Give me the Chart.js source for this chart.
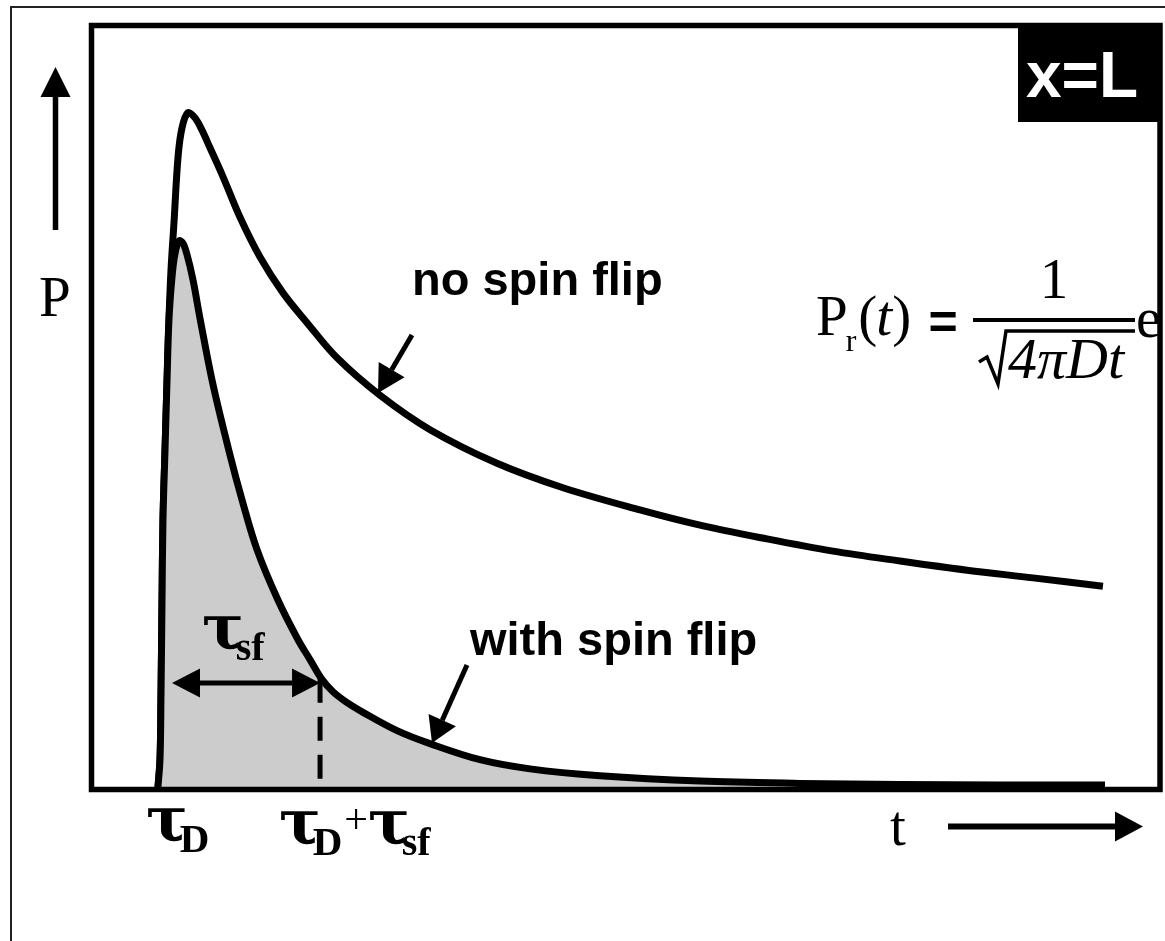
<!DOCTYPE html>
<html>
<head>
<meta charset="utf-8">
<script src="https://cdn.jsdelivr.net/npm/chart.js@4.4.1/dist/chart.umd.min.js"></script>
<style>
  html, body { margin: 0; padding: 0; background: #fff; }
  #wrap { width: 1165px; height: 941px; position: relative; }
</style>
</head>
<body>
<div id="wrap"><canvas id="diffChart" width="1165" height="941"></canvas></div>
<script>
// time axis (arbitrary units) and polarisation at x = L
const tNoFlip = [6.22, 6.41, 6.50, 6.60, 6.69, 6.88, 7.07, 7.25, 7.44, 7.72, 8.10, 8.47, 9.03, 9.69,
  10.34, 11.09, 12.31, 13.90, 15.77, 17.92, 20.17, 22.98, 27.00, 31.68, 37.95, 44.13, 51.33,
  56.95, 63.22, 69.40, 75.67, 81.94, 88.11, 94.66];
const pNoFlip = [0.3, 3.9, 11.7, 24.8, 35.3, 44.4, 53.6, 61.5, 68.0, 74.2, 82.8, 86.6, 88.6, 87.9,
  86.3, 84.0, 80.2, 74.9, 69.7, 65.0, 61.1, 56.5, 51.6, 47.1, 42.7, 39.5, 36.6,
  34.6, 32.8, 31.2, 29.9, 28.7, 27.7, 26.6];

const tFlip = [6.22, 6.41, 6.50, 6.60, 6.69, 6.88, 7.07, 7.25, 7.53, 7.81, 8.19, 8.56, 8.94, 9.50,
  10.15, 11.37, 12.96, 14.09, 15.49, 17.45, 19.33, 20.45, 21.48, 22.60, 24.00, 25.41, 28.59,
  31.68, 36.36, 41.04, 47.59, 56.95, 66.30, 75.67, 85.03, 94.85];
const pFlip = [0.3, 3.9, 11.7, 24.8, 35.3, 44.4, 53.6, 61.5, 67.0, 70.1, 71.8, 71.5, 70.0, 66.7,
  61.7, 53.0, 43.8, 37.9, 31.4, 24.8, 19.6, 17.0, 14.6, 12.8, 11.3, 10.1, 7.7,
  6.0, 3.9, 2.7, 1.8, 1.1, 0.8, 0.65, 0.6, 0.6];

// marked times
const tauD = 6.27;
const tauSf = 15.12;
const pAtMark = 14.5;

const SERIF = '"Liberation Serif", "Times New Roman", serif';
const SANS = '"Liberation Sans", Arial, sans-serif';
const TAU = '"DejaVu Serif", serif';

function toPoints(xs, ys) {
  return xs.map((x, i) => ({ x: x, y: ys[i] }));
}

function arrow(ctx, x0, y0, x1, y1, headLen, headW, lw) {
  const a = Math.atan2(y1 - y0, x1 - x0);
  const bx = x1 - Math.cos(a) * headLen, by = y1 - Math.sin(a) * headLen;
  ctx.lineWidth = lw;
  ctx.beginPath();
  ctx.moveTo(x0, y0);
  ctx.lineTo(bx, by);
  ctx.stroke();
  const nx = -Math.sin(a) * headW / 2, ny = Math.cos(a) * headW / 2;
  ctx.beginPath();
  ctx.moveTo(x1, y1);
  ctx.lineTo(bx + nx, by + ny);
  ctx.lineTo(bx - nx, by - ny);
  ctx.closePath();
  ctx.fill();
}

// draws a run of [text, font, dy, extraGap] pieces one after another
function textRun(ctx, x, y, parts) {
  parts.forEach(p => {
    ctx.font = p[1];
    ctx.fillText(p[0], x, y + (p[2] || 0));
    x += ctx.measureText(p[0]).width + (p[3] || 0);
  });
  return x;
}

const decor = {
  id: 'decor',
  afterDraw(chart) {
    const ctx = chart.ctx;
    const ca = chart.chartArea;
    const xs = chart.scales.x, ys = chart.scales.y;
    ctx.save();
    ctx.fillStyle = '#000';
    ctx.strokeStyle = '#000';
    ctx.lineCap = 'butt';

    // dashed marker at tauD + tauSf
    const xm = xs.getPixelForValue(tauD + tauSf);
    const ym = ys.getPixelForValue(pAtMark);
    ctx.setLineDash([24, 14]);
    ctx.lineWidth = 5;
    ctx.beginPath();
    ctx.moveTo(xm, ym);
    ctx.lineTo(xm, ca.bottom);
    ctx.stroke();
    ctx.setLineDash([]);

    // double arrow for tau_sf
    const ya = 683;
    arrow(ctx, 245, ya, xm, ya, 28, 29, 5);
    arrow(ctx, 245, ya, 172, ya, 28, 29, 5);

    // plot frame
    ctx.lineWidth = 5.5;
    ctx.strokeRect(ca.left, ca.top, ca.right - ca.left, ca.bottom - ca.top);

    // x=L tag
    ctx.fillRect(1018, ca.top, ca.right - 1018, 122 - ca.top);
    ctx.fillStyle = '#fff';
    ctx.font = 'bold 64px ' + SANS;
    ctx.textBaseline = 'alphabetic';
    ctx.fillText('x=L', 1026, 97);
    ctx.fillStyle = '#000';

    // curve labels
    ctx.font = 'bold 47px ' + SANS;
    ctx.fillText('no spin flip', 412, 295);
    ctx.fillText('with spin flip', 470, 655);
    arrow(ctx, 412, 335, 378, 393, 27, 30, 5);
    arrow(ctx, 467, 665, 432, 743, 25, 30, 5);

    // axis names and arrows
    ctx.font = '57px ' + SERIF;
    ctx.fillText('P', 39, 316);
    ctx.fillText('t', 890, 845);
    arrow(ctx, 55.5, 230, 55.5, 67, 30, 30, 5.5);
    arrow(ctx, 948, 826.5, 1143, 826.5, 28, 30, 6);

    // tick labels on the time axis
    textRun(ctx, 146, 840, [['τ', 'bold 62px ' + TAU, 0, -8], ['D', 'bold 41px ' + SERIF, 12]]);
    textRun(ctx, 279, 843, [['τ', 'bold 62px ' + TAU, 0, -8], ['D', 'bold 41px ' + SERIF, 12, 2],
      ['+', '42px ' + SERIF, -10, 0], ['τ', 'bold 62px ' + TAU, 0, -8], ['sf', 'bold 40px ' + SERIF, 12]]);
    textRun(ctx, 202, 648, [['τ', 'bold 62px ' + TAU, 0, -8], ['sf', 'bold 40px ' + SERIF, 12]]);

    // formula, cut by the frame on the right
    ctx.save();
    ctx.beginPath();
    ctx.rect(ca.left, ca.top, ca.right - ca.left - 2, ca.bottom - ca.top);
    ctx.clip();
    textRun(ctx, 816, 335, [['P', '57px ' + SERIF, 0, -2], ['r', '32px ' + SERIF, 16, 2],
      ['(', '57px ' + SERIF, 0, -1], ['t', 'italic 57px ' + SERIF, 0, 0], [')', '57px ' + SERIF]]);
    ctx.font = 'bold 50px ' + SANS;
    ctx.textAlign = 'center';
    ctx.fillText('=', 943, 339);
    ctx.font = '57px ' + SERIF;
    ctx.fillText('1', 1054, 298);
    ctx.textAlign = 'left';
    ctx.fillRect(973, 318, 162, 4);
    ctx.lineWidth = 3.5;
    ctx.lineJoin = 'miter';
    ctx.beginPath();
    ctx.moveTo(979, 362);
    ctx.lineTo(987, 357);
    ctx.lineTo(998, 384);
    ctx.lineTo(1006, 331);
    ctx.lineTo(1135, 331);
    ctx.stroke();
    ctx.font = 'italic 58px ' + SERIF;
    ctx.fillText('4πDt', 1008, 378);
    ctx.font = '57px ' + SERIF;
    ctx.fillText('e', 1136, 337);
    ctx.restore();

    ctx.restore();
  }
};

// outer page frame
const pageFrame = {
  id: 'pageFrame',
  beforeDraw(chart) {
    const ctx = chart.ctx;
    ctx.save();
    ctx.fillStyle = '#fff';
    ctx.fillRect(0, 0, chart.width, chart.height);
    ctx.strokeStyle = '#222';
    ctx.lineWidth = 2;
    ctx.beginPath();
    ctx.moveTo(11, 941);
    ctx.lineTo(11, 7);
    ctx.lineTo(1165, 7);
    ctx.stroke();
    ctx.restore();
  }
};

new Chart(document.getElementById('diffChart').getContext('2d'), {
  type: 'line',
  data: {
    datasets: [
      {
        label: 'with spin flip',
        data: toPoints(tFlip, pFlip),
        borderColor: '#000',
        backgroundColor: '#cccccc',
        borderWidth: 7,
        fill: 'origin',
        pointRadius: 0,
        tension: 0.35
      },
      {
        label: 'no spin flip',
        data: toPoints(tNoFlip, pNoFlip),
        borderColor: '#000',
        borderWidth: 7,
        fill: false,
        pointRadius: 0,
        tension: 0.35
      }
    ]
  },
  options: {
    responsive: false,
    animation: false,
    devicePixelRatio: 1,
    layout: { padding: { left: 91.5, top: 25.5, right: 5, bottom: 151.5 } },
    plugins: { legend: { display: false }, tooltip: { enabled: false } },
    scales: {
      x: { type: 'linear', min: 0, max: 100, display: false },
      y: { min: 0, max: 100, display: false }
    }
  },
  plugins: [pageFrame, decor]
});
</script>
</body>
</html>
